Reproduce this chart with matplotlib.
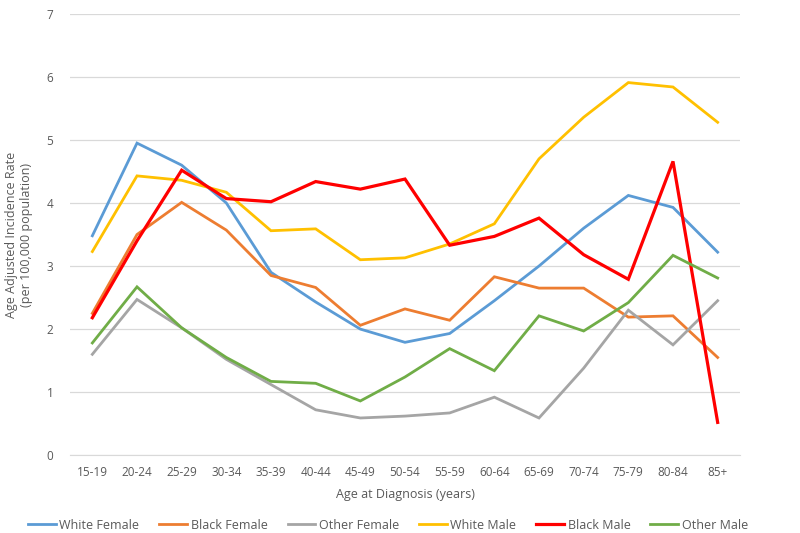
import matplotlib
matplotlib.use("Agg")
import matplotlib.pyplot as plt

categories = ["15-19", "20-24", "25-29", "30-34", "35-39", "40-44", "45-49", "50-54",
              "55-59", "60-64", "65-69", "70-74", "75-79", "80-84", "85+"]
white_female = [3.48, 4.95, 4.60, 4.00, 2.90, 2.43, 2.00, 1.79, 1.93, 2.45, 3.00, 3.60, 4.12, 3.93, 3.22]
black_female = [2.25, 3.50, 4.01, 3.57, 2.85, 2.66, 2.06, 2.32, 2.14, 2.83, 2.65, 2.65, 2.19, 2.21, 1.55]
other_female = [1.60, 2.47, 2.02, 1.52, 1.12, 0.72, 0.59, 0.62, 0.67, 0.92, 0.59, 1.38, 2.30, 1.75, 2.45]
white_male = [3.23, 4.43, 4.36, 4.17, 3.56, 3.59, 3.10, 3.13, 3.35, 3.67, 4.70, 5.36, 5.91, 5.84, 5.28]
black_male = [2.18, 3.40, 4.52, 4.07, 4.02, 4.34, 4.22, 4.38, 3.33, 3.47, 3.76, 3.18, 2.79, 4.66, 0.52]
other_male = [1.78, 2.67, 2.02, 1.55, 1.17, 1.14, 0.86, 1.24, 1.69, 1.34, 2.21, 1.97, 2.42, 3.17, 2.81]

series = [
    ("White Female", white_female, "#5B9BD5", 2.0),
    ("Black Female", black_female, "#ED7D31", 2.0),
    ("Other Female", other_female, "#A5A5A5", 2.0),
    ("White Male", white_male, "#FFC000", 2.0),
    ("Black Male", black_male, "#FF0000", 2.3),
    ("Other Male", other_male, "#70AD47", 2.0),
]

plt.rcParams['font.family'] = ['Open Sans', 'DejaVu Sans']
fig = plt.figure(figsize=(8, 5.33), dpi=100)
ax = fig.add_axes([0.0875, 0.146, 0.8375, 0.828])
x = list(range(len(categories)))
for name, vals, color, lw in series:
    ax.plot(x, vals, color=color, lw=lw, label=name, solid_joinstyle='miter')

ax.set_xlim(-0.5, len(categories) - 0.5)
ax.set_ylim(0, 7)
ax.set_yticks(range(0, 8))
ax.set_xticks(x)
ax.set_xticklabels(categories)
ax.grid(axis='y', color='#D9D9D9', lw=0.9)
ax.set_axisbelow(True)
for s in ['top', 'right', 'left']:
    ax.spines[s].set_visible(False)
ax.spines['bottom'].set_color('#D9D9D9')
ax.tick_params(axis='both', length=0, colors='#595959', labelsize=8.5)
ax.tick_params(axis='x', pad=8)
ax.tick_params(axis='y', pad=12)
ax.set_xlabel("Age at Diagnosis (years)", color='#595959', fontsize=9, labelpad=6)
ax.set_ylabel("Age Adjusted Incidence Rate\n(per 100,000 population)", color='#595959',
              fontsize=9, labelpad=10)
leg = fig.legend(loc='center', bbox_to_anchor=(0.485, 0.015), ncol=6, frameon=False,
                 fontsize=9, handlelength=2.2, columnspacing=1.6, handletextpad=0.3,
                 borderpad=0, borderaxespad=0)
for t in leg.get_texts():
    t.set_color('#595959')
fig.savefig("out.png", dpi=100)
